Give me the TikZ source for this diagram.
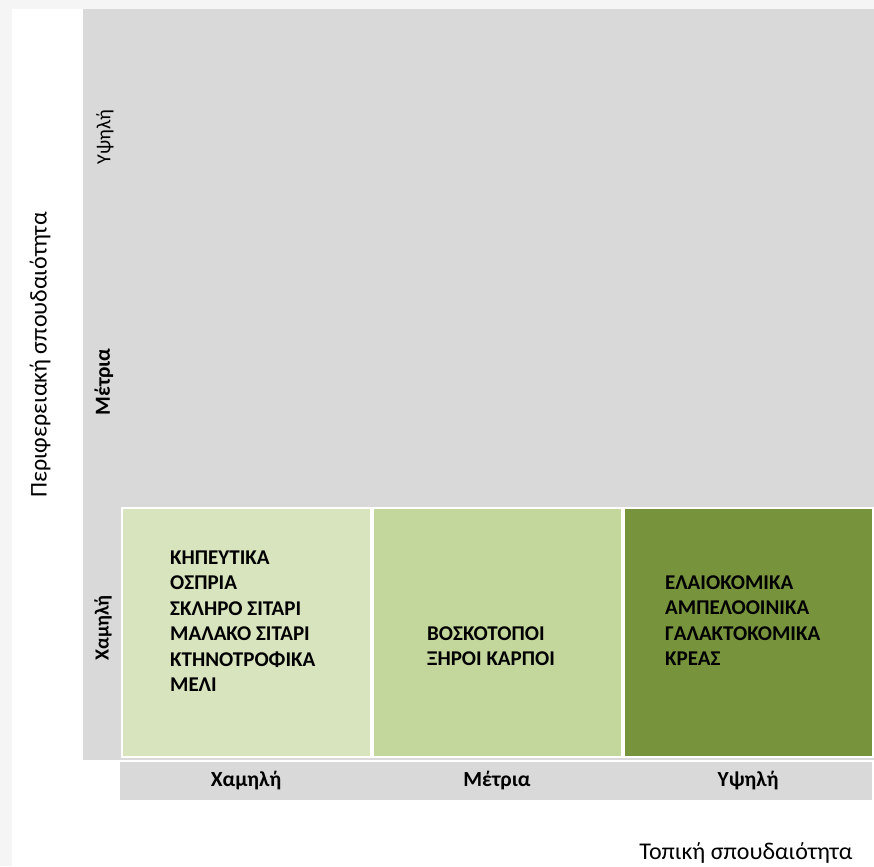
\documentclass[tikz,border=0pt]{standalone}
\usepackage{fontspec}
\setmainfont{Carlito}
\usetikzlibrary{positioning}
\definecolor{panelgray}{HTML}{D9D9D9}
\definecolor{margingray}{HTML}{F5F5F5}
\definecolor{greenlow}{HTML}{D7E4BD}
\definecolor{greenmid}{HTML}{C3D69B}
\definecolor{greenhigh}{HTML}{77933C}

\begin{document}
\begin{tikzpicture}[x=1pt,y=-1pt,
  cell/.style={draw=white,line width=2pt,minimum width=249pt,minimum height=249pt,inner sep=0pt,outer sep=0pt},
  items/.style={font=\bfseries\fontsize{21}{25.5}\selectfont,align=left,anchor=west,inner sep=0pt},
  level/.style={font=\bfseries\fontsize{21.5}{24}\selectfont,inner sep=0pt},
  axistitle/.style={font=\fontsize{24}{28}\selectfont,inner sep=0pt}]
  \useasboundingbox (0,0) rectangle (874,866);
  \fill[margingray] (0,0) rectangle (874,866);
  \fill[white] (12,9) rectangle (874,866);
  \fill[panelgray] (83,9) rectangle (874,760);
  \fill[panelgray] (120,762) rectangle (872,800);
  % cells
  \node[cell,fill=greenlow] (low) at (246,632.5) {};
  \node[cell,fill=greenmid,right=2pt of low] (mid) {};
  \node[cell,fill=greenhigh,right=2pt of mid] (high) {};
  \node[items] (lowitems) at (170,621) {ΚΗΠΕΥΤΙΚΑ\\ΟΣΠΡΙΑ\\ΣΚΛΗΡΟ ΣΙΤΑΡΙ\\ΜΑΛΑΚΟ ΣΙΤΑΡΙ\\ΚΤΗΝΟΤΡΟΦΙΚΑ\\ΜΕΛΙ};
  \node[items] (miditems) at (427,646) {ΒΟΣΚΟΤΟΠΟΙ\\ΞΗΡΟΙ ΚΑΡΠΟΙ};
  \node[items] (highitems) at (665,620.5) {ΕΛΑΙΟΚΟΜΙΚΑ\\ΑΜΠΕΛΟΟΙΝΙΚΑ\\ΓΑΛΑΚΤΟΚΟΜΙΚΑ\\ΚΡΕΑΣ};
  % levels
  \node[level] (locallow) at (low |- 0,781) {Χαμηλή};
  \node[level] (localmid) at (mid |- 0,781) {Μέτρια};
  \node[level] (localhigh) at (high |- 0,781) {Υψηλή};
  \node[level,rotate=90,font=\bfseries\fontsize{20}{24}\selectfont] (reglow) at (103,628) {Χαμηλή};
  \node[level,rotate=90] (regmid) at (104,382) {Μέτρια};
  \node[level,rotate=90,font=\mdseries\fontsize{20}{24}\selectfont] (reghigh) at (105,137) {Υψηλή};
  % axis titles
  \node[axistitle,rotate=90] (regtitle) at (40,355) {Περιφερειακή σπουδαιότητα};
  \node[axistitle] (localtitle) at (746,853) {Τοπική σπουδαιότητα};
\end{tikzpicture}
\end{document}
